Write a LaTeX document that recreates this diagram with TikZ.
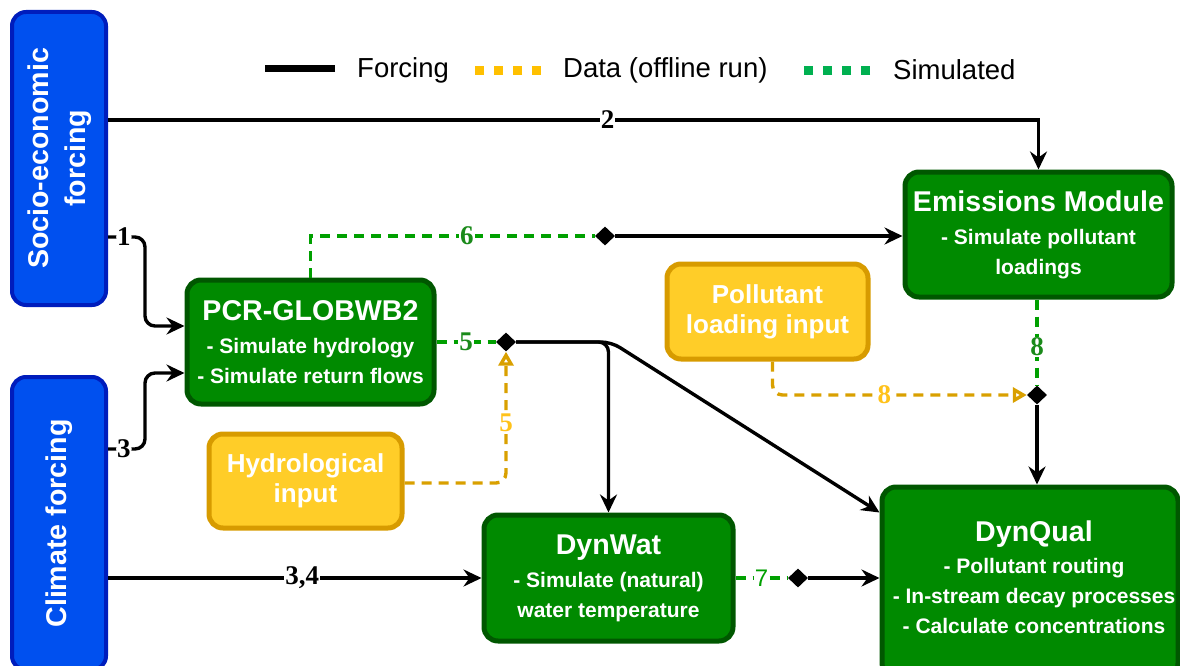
\documentclass[tikz,border=0pt]{standalone}
\usepackage{fontspec}
\setmainfont{Liberation Serif}
\setsansfont{Liberation Sans}
\usetikzlibrary{arrows.meta,shapes.geometric}
\definecolor{gfill}{HTML}{008A00}
\definecolor{gdraw}{HTML}{005700}
\definecolor{bfill}{HTML}{0050EF}
\definecolor{bdraw}{HTML}{001DBC}
\definecolor{yfill}{HTML}{FFCD28}
\definecolor{ydraw}{HTML}{D79B00}
\definecolor{simline}{HTML}{00A000}
\definecolor{dataline}{HTML}{D9A000}
\definecolor{ylab}{HTML}{FFC21A}
\definecolor{glab}{HTML}{1A8A1A}
\definecolor{legy}{HTML}{FFC000}
\definecolor{legg}{HTML}{00B050}
\newcommand\titlefnt{\fontsize{28.6}{34}\selectfont}
\newcommand\subfnt{\fontsize{21}{30}\selectfont}
\newcommand\inpfnt{\fontsize{26}{30}\selectfont}
\newcommand\labfnt{\fontsize{27}{28}\selectfont}
\newcommand\legfnt{\fontsize{27.5}{30}\selectfont}
\tikzset{
  gbox/.style={draw=gdraw, fill=gfill, line width=5pt, rounded corners=14pt, text=white, align=center, font=\sffamily\bfseries\subfnt, inner sep=0pt},
  ybox/.style={draw=ydraw, fill=yfill, line width=5pt, rounded corners=14pt, text=white, align=center, font=\sffamily\bfseries\inpfnt, inner sep=0pt},
  bbox/.style={draw=bdraw, fill=bfill, line width=4pt, rounded corners=14pt, inner sep=0pt},
  btext/.style={text=white, align=center, font=\sffamily\bfseries\fontsize{28.6}{37}\selectfont, rotate=90, inner sep=0pt},
  boxtext/.style={text=white, align=center, font=\sffamily\bfseries\subfnt, inner sep=0pt},
  forcing/.style={line width=3.4pt, draw=black, -{Stealth[length=18pt,width=17pt,inset=6pt]}},
  simulated/.style={draw=simline, line width=3.4pt, dash pattern=on 10pt off 7pt},
  datalink/.style={draw=dataline, line width=3.4pt, dash pattern=on 10pt off 7pt},
  openarrow/.style={-{Triangle[open,length=14pt,width=15pt]}},
  junction/.style={diamond, fill=black, minimum width=20pt, minimum height=19pt, inner sep=0pt},
  lab/.style={fill=white, inner sep=1pt, font=\rmfamily\bfseries\labfnt},
  legtext/.style={inner sep=0pt, anchor=west, font=\sffamily\legfnt}
}
\begin{document}
\begin{tikzpicture}[x=1pt,y=-1pt]
\useasboundingbox (0,0) rectangle (1180,666);
% boxes
\node[bbox, minimum width=94pt, minimum height=293pt] (socio) at (59,158.5) {};
\node[btext] (sociotext) at ([xshift=1pt]socio.center) {Socio-economic\\forcing};
\node[bbox, minimum width=94pt, minimum height=293pt] (climate) at (59,523.5) {};
\node[btext] (climtext) at (climate.center) {Climate forcing};
\node[gbox, minimum width=247pt, minimum height=124pt] (pcr) at (310.5,342) {{\titlefnt PCR-GLOBWB2}\\[3pt]- Simulate hydrology\\- Simulate return flows};
\node[gbox, minimum width=267pt, minimum height=125pt] (emis) at (1038.5,234.5) {{\titlefnt Emissions Module}\\[3pt]- Simulate pollutant\\loadings};
\node[gbox, minimum width=249pt, minimum height=126pt] (dynwat) at (608.5,578) {{\titlefnt DynWat}\\[3pt]- Simulate (natural)\\water temperature};
\node[gbox, minimum width=296pt, minimum height=190pt] (dynqual) at (1030,582) {};
\node[boxtext] (dqtext) at (1034,577) {{\titlefnt DynQual}\\[2pt]- Pollutant routing\\- In-stream decay processes\\- Calculate concentrations};
\node[ybox, minimum width=201pt, minimum height=95pt] (pollin) at (767.5,311.5) {Pollutant\\loading input};
\node[ybox, minimum width=193pt, minimum height=94pt] (hydin) at (305.5,481) {Hydrological\\input};
% legend
\node[legtext] (lf) at (357,70) {Forcing};
\node[legtext] (ld) at (563,70) {Data (offline run)};
\node[legtext] (ls) at (893,70) {Simulated};
\draw[line width=7pt] ([xshift=-22pt,yshift=1pt]lf.west) -- ++(-70,0);
\draw[legy, line width=9pt, dash pattern=on 9pt off 10pt] ([xshift=-22pt,yshift=-1pt]ld.west) -- ++(-68,0);
\draw[legg, line width=9pt, dash pattern=on 9pt off 10pt] ([xshift=-23pt,yshift=-1pt]ls.west) -- ++(-68,0);
% junctions
\node[junction] (d5) at (506,342) {};
\node[junction] (d6) at (605,236) {};
\node[junction] (d8) at (1037,395) {};
\node[junction] (d7) at (798,578) {};
% connector 2
\coordinate (s2) at ([yshift=38.5pt]socio.east);
\draw[forcing] (s2) -- node[lab, pos=.537]{2} (s2 -| emis.north) -- (emis.north);
% connector 1
\coordinate (s1) at ([yshift=-78.5pt]socio.east);
\coordinate (p1) at ([yshift=16pt]pcr.west);
\draw[forcing, rounded corners=10pt] (s1) -- node[lab,pos=.43]{1} ++(37,0) |- (p1);
% connector 3
\coordinate (c3) at ([yshift=74.5pt]climate.east);
\coordinate (p3) at ([yshift=-31pt]pcr.west);
\draw[forcing, rounded corners=10pt] (c3) -- node[lab,pos=.43]{3} ++(37,0) |- (p3);
% connector 3,4
\draw[forcing] (climate.east |- dynwat.west) -- node[lab,pos=.52]{3,4} (dynwat.west);
% 5 simulated
\draw[simulated] (pcr.east) -- node[lab, text=glab]{5} (d5.west);
% 5 data
\draw[datalink, openarrow, rounded corners=10pt] ([yshift=-2pt]hydin.east) -| node[lab,text=ylab,pos=.73]{5} (d5.south);
% from d5
\draw[forcing, rounded corners=10pt] (d5.east) -| (dynwat.north);
\coordinate (q1) at ([yshift=-28pt]dynqual.north west);
\draw[forcing, rounded corners=10pt] (d5.east) -- ++(95,0) -- (q1);
% 6
\draw[simulated] (pcr.north) |- node[lab,text=glab,pos=.775]{6} (d6.west);
\draw[forcing] (d6.east) -- (d6.east -| emis.west);
% 8
\draw[datalink, openarrow, rounded corners=10pt] ([xshift=5pt]pollin.south) |- node[lab,text=ylab,pos=.72]{8} (d8.west);
\draw[simulated] (d8.north |- emis.south) -- node[lab,text=glab,pos=.55]{8} (d8.north);
\draw[forcing] (d8.south) -- (d8.south |- dynqual.north);
% 7
\draw[simulated] (dynwat.east) -- node[lab,text=simline,font=\sffamily\fontsize{24}{26}\selectfont]{7} (d7.west);
\draw[forcing] (d7.east) -- (d7.east -| dynqual.west);
\end{tikzpicture}
\end{document}
